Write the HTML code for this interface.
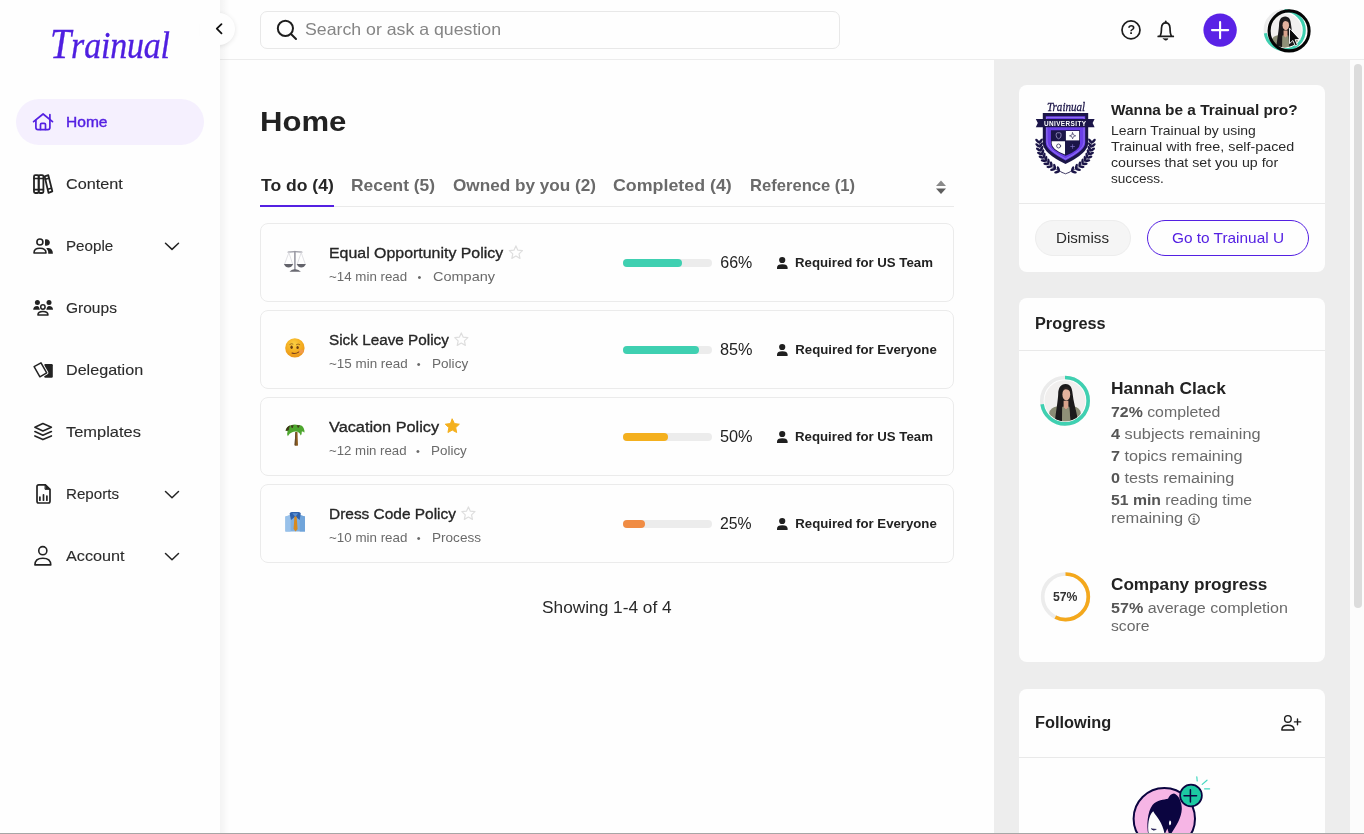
<!DOCTYPE html>
<html lang="en">
<head>
<meta charset="utf-8">
<title>Trainual - Home</title>
<style>
*{box-sizing:border-box;margin:0;padding:0}
html,body{width:1364px;height:834px;overflow:hidden;background:#fefefe}
body{font-family:"Liberation Sans",sans-serif;color:#222;position:relative}
.abs{position:absolute}
.t{position:absolute;white-space:nowrap;line-height:1}
svg{display:block;overflow:visible}

/* ---------- right panel ---------- */
#right{left:994px;top:60px;width:356px;height:774px;background:#ededed}
#scroll{left:1350px;top:60px;width:14px;height:774px;background:#fcfcfc}
#thumb{left:1354px;top:64px;width:8px;height:544px;border-radius:4px;background:#dcdcdc}
.card{position:absolute;left:1019px;width:306px;background:#fefefe;border-radius:8px}
.hr{position:absolute;left:1019px;width:306px;height:1px;background:#e9e9e9}

/* ---------- sidebar ---------- */
#side{left:0;top:0;width:220px;height:834px;background:#fefefe}
#sideshadow{left:220px;top:0;width:10px;height:834px;background:linear-gradient(90deg,rgba(0,0,0,.045),rgba(0,0,0,.02) 50%,rgba(0,0,0,0))}
#pill{left:16px;top:99px;width:188px;height:46px;border-radius:23px;background:#f5f0fe}
.nav{font-size:14.5px;color:#2a2a2a;left:66px}
.ico{position:absolute}

/* ---------- header ---------- */
#head{left:220px;top:0;width:1144px;height:60px;background:#fefefe;border-bottom:1px solid #ececec}
#search{left:260px;top:11px;width:580px;height:38px;border:1px solid #e8e8e8;border-radius:7px;background:#fefefe}

/* ---------- main ---------- */
.row{position:absolute;left:260px;width:694px;height:79px;border:1px solid #ebebeb;border-radius:8px;background:#fefefe}
.ttl{font-size:15px;color:#262626}
.sub{font-size:13px;color:#666}
.bar{position:absolute;left:623px;width:89px;height:8px;border-radius:4px;background:#ececec}
.fill{position:absolute;left:0;top:0;height:8px;border-radius:4px}
.pct{font-size:16px;color:#222}
.req{font-size:13px;font-weight:bold;color:#222}
.tab{font-size:16px;font-weight:bold;color:#666}
.g{color:#6b6b6b}
b{font-weight:bold}
</style>
</head>
<body>
<div id="layer" style="position:absolute;left:0;top:0;width:1364px;height:834px;will-change:transform">

<!-- ================= MAIN BACKGROUNDS ================= -->
<div class="abs" id="right"></div>
<div class="abs" id="scroll"></div>
<div class="abs" id="thumb"></div>
<div class="abs" id="head"></div>
<div class="abs" id="sideshadow"></div>
<div class="abs" id="side"></div>

<!-- ================= SIDEBAR ================= -->
<div id="sidebar">
<div class="t" id="logo" style="left:49.9px;top:22.8px;font-family:'Liberation Serif',serif;font-style:italic;font-size:42.5px;color:#4f1fe0;transform-origin:0 0;transform:scaleX(0.893);-webkit-text-stroke:0.35px #4f1fe0">T<span style="font-size:38px;letter-spacing:-0.2px">rainual</span></div>
<div class="abs" id="pill"></div>
<svg class="abs" style="left:0;top:0" width="240" height="834" viewBox="0 0 240 834" fill="none" stroke="#232323" stroke-width="1.6" stroke-linecap="round" stroke-linejoin="round">
<!-- home -->
<g stroke="#5420e2" stroke-width="1.7">
<path d="M33.6 121.7 L43.1 114 L52.5 121.7"/>
<path d="M35.9 120.2 V127.6 Q35.9 129.7 38 129.7 H47.8 Q49.9 129.7 49.9 127.6 V114.6"/>
<path d="M40.5 129.5 V124.6 Q40.5 123.3 41.8 123.3 H44.2 Q45.5 123.3 45.5 124.6 V129.5"/>
</g>
<!-- content / books -->
<rect x="34" y="175.2" width="4.7" height="17.8" rx="1.2" stroke-width="1.8"/>
<rect x="38.7" y="175.2" width="4.7" height="17.8" rx="1.2" stroke-width="1.8"/>
<path d="M34 178.5 H43.4 M34 189.6 H43.4"/>
<path d="M44.6 176.3 L48.3 175.2 L52.3 191.3 L48.5 192.9 Z" stroke-width="1.8"/>
<path d="M45.3 179.3 L48.8 178.3 M47.8 189.3 L51.3 188.2"/>
<!-- people -->
<circle cx="39.9" cy="242" r="3"/>
<path d="M34 253 Q33.9 248.3 39.9 248.3 Q46 248.3 46 253 Z"/>
<path d="M45 239.6 A3.3 3.3 0 1 1 45 245.4 Z" fill="#232323" stroke="none"/>
<path d="M46.2 247.9 H48.6 Q52.9 248.3 52.9 253.8 H48.3 Q48.6 250.4 46.2 247.9 Z" fill="#232323" stroke="none"/>
<!-- groups -->
<g fill="#232323" stroke="none">
<circle cx="37.4" cy="302.4" r="2.5"/><circle cx="49" cy="302.4" r="2.5"/>
<path d="M33.2 309.8 Q33.2 306 37.2 306 Q39.2 306 39.9 309.8 Z"/>
<path d="M53 309.8 Q53 306 49 306 Q47 306 46.3 309.8 Z"/>
</g>
<circle cx="42.9" cy="307" r="2.2" stroke-width="1.5"/>
<path d="M37.9 315 Q38 311.6 42.9 311.6 Q47.9 311.6 48 315 Z" stroke-width="1.5"/>
<!-- delegation -->
<rect x="44.2" y="364" width="8.6" height="13.7" rx="1.2" fill="#232323" stroke="none"/>
<path d="M41 362.9 L34.1 366.7 L39.9 376.8 L46.7 372.9 Z" fill="#fefefe" stroke="#fefefe" stroke-width="3.4"/><path d="M41 362.9 L34.1 366.7 L39.9 376.8 L46.7 372.9 Z" fill="#fefefe" stroke-width="1.5"/>
<!-- templates -->
<path d="M34.9 427.3 L42.9 423.6 L51.4 427.3 L42.9 431 Z"/>
<path d="M34.9 431.6 L42.9 435.2 L51.4 431.6"/>
<path d="M34.9 435.9 L42.9 439.6 L51.4 435.9"/>
<!-- reports -->
<path d="M37 486.6 Q37 484.9 38.7 484.9 H45.4 L50 489.3 V501.3 Q50 503 48.3 503 H38.7 Q37 503 37 501.3 Z" stroke-width="1.7"/>
<path d="M45.4 484.9 L50 489.3 H45.4 Z" fill="#232323" stroke-width="1"/>
<path d="M39.9 497 V500.2 M43.5 494.8 V500.2 M46.9 496 V500.2" stroke-width="1.7"/>
<!-- account -->
<circle cx="42.8" cy="550.7" r="4.05"/>
<path d="M34.9 564.9 Q35 558.2 42.8 558.2 Q50.7 558.2 50.8 564.9 Z"/>
<!-- chevrons -->
<g stroke-width="1.5">
<path d="M165.5 243.2 L172 249.4 L178.5 243.2"/>
<path d="M165.5 491.5 L172 497.7 L178.5 491.5"/>
<path d="M165.5 553.5 L172 559.7 L178.5 553.5"/>
</g>
</svg>
<!-- collapse button -->
<div class="abs" style="left:202.7px;top:12.5px;width:32.5px;height:32.5px;border-radius:50%;background:#fefefe;box-shadow:0 1px 5px rgba(0,0,0,.10)"></div>
<div class="abs" style="left:200px;top:0;width:20px;height:60px;background:#fefefe"></div>
<svg class="abs" style="left:210px;top:20px" width="20" height="20" viewBox="210 20 20 20" fill="none" stroke="#111" stroke-width="1.8" stroke-linecap="round" stroke-linejoin="round"><path d="M221.5 24.1 L216.8 28.7 L221.5 33.3"/></svg>

<div class="t" style="left:66.4px;top:114.00px;font-size:15px;color:#5420e2;transform:scaleX(1.0371);transform-origin:0 0;-webkit-text-stroke:0.4px currentColor;">Home</div>
<div class="t" style="left:66.4px;top:176.00px;font-size:15px;color:#2b2b2b;transform:scaleX(1.0809);transform-origin:0 0;-webkit-text-stroke:0.12px currentColor;">Content</div>
<div class="t" style="left:66.4px;top:238.00px;font-size:15px;color:#2b2b2b;transform:scaleX(1.0103);transform-origin:0 0;-webkit-text-stroke:0.12px currentColor;">People</div>
<div class="t" style="left:66.4px;top:300.00px;font-size:15px;color:#2b2b2b;transform:scaleX(1.0345);transform-origin:0 0;-webkit-text-stroke:0.12px currentColor;">Groups</div>
<div class="t" style="left:66.4px;top:362.00px;font-size:15px;color:#2b2b2b;transform:scaleX(1.0750);transform-origin:0 0;-webkit-text-stroke:0.12px currentColor;">Delegation</div>
<div class="t" style="left:66.4px;top:424.00px;font-size:15px;color:#2b2b2b;transform:scaleX(1.0954);transform-origin:0 0;-webkit-text-stroke:0.12px currentColor;">Templates</div>
<div class="t" style="left:66.4px;top:486.00px;font-size:15px;color:#2b2b2b;transform:scaleX(1.0089);transform-origin:0 0;-webkit-text-stroke:0.12px currentColor;">Reports</div>
<div class="t" style="left:66.4px;top:548.00px;font-size:15px;color:#2b2b2b;transform:scaleX(1.0811);transform-origin:0 0;-webkit-text-stroke:0.12px currentColor;">Account</div>
</div>

<!-- ================= HEADER ================= -->
<div id="header">
<div class="abs" id="search"></div>
<svg class="abs" style="left:0;top:0;width:0;height:0" width="0" height="0">
<defs>
<clipPath id="pc"><circle cx="0" cy="0" r="20.5"/></clipPath>
<g id="portrait">
<circle cx="0" cy="0" r="20.5" fill="#f1efee"/>
<g clip-path="url(#pc)">
<path d="M-15.8 22 V12.5 Q-15 6.6 -7 5.6 H8 Q15 6.6 15.8 12.5 V22 Z" fill="#8a8c74"/>
<path d="M0.6 -16.8 C-4.6 -16.8 -6.6 -12.5 -6.8 -7 C-7 -1 -8.6 8 -10 19.5 L-3 20.5 L-2.6 6 L4.2 6 L5.5 20 L12.6 17.5 C11 9 8.2 0 7.6 -7 C7.2 -12.5 5.6 -16.8 0.6 -16.8 Z" fill="#1c1a1b"/>
<path d="M-1.4 0 H3.4 V6.5 L1 8.8 L-1.4 6.5 Z" fill="#d8a38c"/>
<path d="M-2.6 6.2 L1 9 L4.2 6.2 L5.2 21 H-3 Z" fill="#8f9078"/>
<ellipse cx="1.3" cy="-6.3" rx="3.9" ry="6.1" fill="#e4b29d"/>
<path d="M-2.6 -9 Q0 -13.5 5.2 -9.5 Q4.5 -13.6 1.2 -13.6 Q-2 -13.6 -2.6 -9 Z" fill="#2a2322"/>
</g>
</g>
</defs>
</svg>
<svg class="abs" style="left:220px;top:0" width="1144" height="60" viewBox="220 0 1144 60" fill="none" stroke="#1d1d1d" stroke-width="1.8" stroke-linecap="round" stroke-linejoin="round">
<!-- search -->
<circle cx="285.4" cy="28.3" r="7.6" stroke-width="2"/><path d="M291 34 L296 39" stroke-width="2"/>
<!-- help -->
<circle cx="1131" cy="29.9" r="9" stroke-width="1.7"/>
<!-- bell -->
<path d="M1158.2 36.4 H1173.3" stroke-width="1.7"/>
<path d="M1160.2 36.2 C1161.8 32.8 1161.3 30.4 1161.5 28 C1161.7 24.6 1163.4 22.9 1165.75 22.9 C1168.1 22.9 1169.8 24.6 1170 28 C1170.2 30.4 1169.7 32.8 1171.3 36.2" stroke-width="1.7"/>
<path d="M1165.75 21.3 V22.6" stroke-width="1.7"/>
<path d="M1163.4 38.7 H1168.1 Q1165.75 41.8 1163.4 38.7 Z" fill="#1d1d1d" stroke-width="0.6"/>
<!-- plus -->
<circle cx="1220.1" cy="30.1" r="16.7" fill="#5a22e6" stroke="none"/>
<path d="M1212 30.1 H1228.2 M1220.1 22 V38.2" stroke="#fff" stroke-width="2.1"/>
<!-- avatar -->
<circle cx="1284.7" cy="30.2" r="19.6" stroke="#ececec" stroke-width="3"/>
<circle cx="1284.7" cy="30.2" r="19.6" stroke="#3fd0b1" stroke-width="3" stroke-dasharray="88.7 200" transform="rotate(-90 1284.7 30.2)" stroke-linecap="butt"/>
<g transform="translate(1284.7 30.4) scale(0.83)" stroke="none"><use href="#portrait"/></g>
<circle cx="1289.1" cy="30.9" r="20" stroke="#050505" stroke-width="3.1"/>
<!-- cursor -->
<path d="M1289.5 28.6 L1289.5 43.6 L1292.9 40.5 L1295.3 45.8 L1297.4 44.9 L1295.1 39.7 L1299.7 39.5 Z" fill="#0a0a0a" stroke="#fff" stroke-width="0.9"/>
</svg>
<div class="t" style="left:1127.4px;top:23.6px;font-size:12.6px;font-weight:bold;color:#1d1d1d">?</div>

<div class="t" style="left:305.4px;top:20.75px;font-size:16.5px;color:#858585;transform:scaleX(1.0738);transform-origin:0 0;">Search or ask a question</div>
</div>

<!-- ================= MAIN ================= -->
<div id="main">
<div class="abs" style="left:260px;top:206px;width:694px;height:1px;background:#eaeaea"></div>
<div class="abs" style="left:260px;top:205px;width:74px;height:2px;background:#5420e2"></div>
<div class="row" style="top:223px"></div>
<div class="bar" style="top:259px"><div class="fill" style="width:59px;background:#3fd0b1"></div></div>
<div class="row" style="top:310px"></div>
<div class="bar" style="top:346px"><div class="fill" style="width:75.6px;background:#3fd0b1"></div></div>
<div class="row" style="top:397px"></div>
<div class="bar" style="top:433px"><div class="fill" style="width:44.5px;background:#f4b01e"></div></div>
<div class="row" style="top:484px"></div>
<div class="bar" style="top:520px"><div class="fill" style="width:22.3px;background:#f08c44"></div></div>
<svg class="abs" style="left:220px;top:60px" width="774" height="560" viewBox="220 60 774 560" fill="none" stroke-linecap="round" stroke-linejoin="round">
<path d="M936 186 L941 180.4 L946 186 Z" fill="#8a8a8a"/><path d="M936 188.4 L941 194 L946 188.4 Z" fill="#5e5e5e"/>
<path d="M515.90 245.90 L517.84 250.13 L522.46 250.67 L519.04 253.82 L519.96 258.38 L515.90 256.10 L511.84 258.38 L512.76 253.82 L509.34 250.67 L513.96 250.13 Z" stroke="#dedede" stroke-width="1.2"/>
<circle cx="782.2" cy="260" r="3.1" fill="#1f1f1f"/>
<path d="M777 268.9 V267.6 Q777 264.2 782.3 264.2 Q787.6 264.2 787.6 267.6 V268.9 Z" fill="#1f1f1f"/>
<path d="M461.30 332.90 L463.24 337.13 L467.86 337.67 L464.44 340.82 L465.36 345.38 L461.30 343.10 L457.24 345.38 L458.16 340.82 L454.74 337.67 L459.36 337.13 Z" stroke="#dedede" stroke-width="1.2"/>
<circle cx="782.2" cy="347" r="3.1" fill="#1f1f1f"/>
<path d="M777 355.9 V354.6 Q777 351.2 782.3 351.2 Q787.6 351.2 787.6 354.6 V355.9 Z" fill="#1f1f1f"/>
<path d="M452.30 419.10 L454.42 423.59 L459.34 424.21 L455.72 427.61 L456.65 432.49 L452.30 430.10 L447.95 432.49 L448.88 427.61 L445.26 424.21 L450.18 423.59 Z" fill="#f4b01e" stroke="#f4b01e" stroke-width="1" />
<circle cx="782.2" cy="434" r="3.1" fill="#1f1f1f"/>
<path d="M777 442.9 V441.6 Q777 438.2 782.3 438.2 Q787.6 438.2 787.6 441.6 V442.9 Z" fill="#1f1f1f"/>
<path d="M468.40 506.90 L470.34 511.13 L474.96 511.67 L471.54 514.82 L472.46 519.38 L468.40 517.10 L464.34 519.38 L465.26 514.82 L461.84 511.67 L466.46 511.13 Z" stroke="#dedede" stroke-width="1.2"/>
<circle cx="782.2" cy="521" r="3.1" fill="#1f1f1f"/>
<path d="M777 529.9 V528.6 Q777 525.2 782.3 525.2 Q787.6 525.2 787.6 528.6 V529.9 Z" fill="#1f1f1f"/>
<g stroke="#9a9aa4" stroke-width="1.1">
<path d="M288.2 252.1 Q295 251 301.8 252.1" stroke-width="1.3"/>
<path d="M294.9 251.6 V269" stroke-width="1.6"/>
<path d="M288.9 252.6 L284.6 264 M288.9 252.6 L292.6 264 M301.2 252.6 L297.3 264 M301.2 252.6 L305.2 264" stroke="#d9d9de" stroke-width="0.8"/>
</g>
<path d="M283.9 264.1 H293.2 Q291.5 267.6 288.5 267.6 Q285.5 267.6 283.9 264.1 Z" fill="#63636b"/>
<path d="M296.7 264.1 H305.9 Q304.3 267.6 301.3 267.6 Q298.3 267.6 296.7 264.1 Z" fill="#63636b"/>
<path d="M289.5 271.8 Q291 269.4 294.9 269 Q299 269.4 300.9 271.8 Z" fill="#6a6a72"/>
<defs><radialGradient id="fg" cx="0.45" cy="0.3" r="0.75"><stop offset="0" stop-color="#fbd044"/><stop offset="0.55" stop-color="#f4ad20"/><stop offset="1" stop-color="#e8901a"/></radialGradient></defs>
<circle cx="294.9" cy="347.9" r="9.7" fill="url(#fg)"/>
<ellipse cx="291.6" cy="347.3" rx="1.2" ry="1.7" fill="#6a3d12"/><ellipse cx="297.6" cy="347.6" rx="1.2" ry="1.5" fill="#6a3d12"/>
<path d="M289.8 344.4 Q291.5 343 293 344 M296.4 344.6 Q298 343.2 299.8 344.6" stroke="#8a5a1a" stroke-width="0.8"/>
<path d="M292 353 Q295 354.6 299.5 351.6" stroke="#7a3f1c" stroke-width="1.1"/>
<path d="M299 349.5 Q303.5 349 304 351.5 Q302 354.5 299 353 Z" fill="#f29a55" opacity="0.8"/>
<path d="M295.4 432 Q295 438 294.6 445.3 Q296 446.2 298 445.4 Q297.6 438 297.5 432 Z" fill="#8a5a1e"/>
<path d="M294.6 445.3 Q295 438 295.4 432 L296.2 432 Q295.8 438 295.8 445.8 Z" fill="#5e4a30"/>
<path d="M285.6 430.6 Q286.5 426.2 291 425.2 Q294.5 424 298 425 Q302.5 424.8 303.8 428.4 Q304.8 430.6 304.3 432.8 Q303.3 431.3 301.8 431.6 Q302 434 300.8 435.4 Q300 432.8 297.6 431.8 Q294.6 431.2 292.2 432.2 Q289.2 433.4 287.8 436.2 Q286.6 433.6 287.6 431.2 Q286.5 430.5 285.6 430.6 Z" fill="#4da62e"/>
<path d="M286 430.2 Q286.8 427 289.6 425.8 Q288.4 428 288.6 429.6 Z M291.2 425.6 L292.2 428 L293.2 425.4 M297.2 425.4 L298.2 427.6 L299.4 425.6" fill="#3d2a18" stroke="#3d2a18" stroke-width="0.6"/>
<path d="M285.4 516.6 L290.6 515 H299.8 L305 516.6 V531.6 H285.4 Z" fill="#80b0e0"/>
<path d="M285.4 516.6 L290.6 515 V531.6 H285.4 Z" fill="#98c1ea"/><path d="M305 516.6 L299.8 515 V531.6 H305 Z" fill="#70a4da"/>
<path d="M289.6 513.6 Q290 511.9 291.8 511.9 H298.6 Q300.5 511.9 300.8 513.6 L299.6 520 L295.4 516.6 L291 520 Z" fill="#2f62ad"/>
<path d="M292.2 513.2 H298.2 L295.4 516.8 Z" fill="#5b8fd0"/>
<path d="M294.4 516.6 H296.6 L297.6 529 L295.6 531.6 L293.6 529 Z" fill="#d98a1e"/>
</svg>

<div class="t" style="left:260.3px;top:106.80px;font-size:28.4px;font-weight:bold;color:#222;transform:scaleX(1.0952);transform-origin:0 0;">Home</div>
<div class="t" style="left:260.6px;top:176.80px;font-size:16.4px;font-weight:bold;color:#262626;transform:scaleX(1.0708);transform-origin:0 0;">To do (4)</div>
<div class="t" style="left:350.6px;top:176.80px;font-size:16.4px;font-weight:bold;color:#6a6a6a;transform:scaleX(1.0612);transform-origin:0 0;">Recent (5)</div>
<div class="t" style="left:452.7px;top:176.80px;font-size:16.4px;font-weight:bold;color:#6a6a6a;transform:scaleX(1.0468);transform-origin:0 0;">Owned by you (2)</div>
<div class="t" style="left:613.2px;top:176.80px;font-size:16.4px;font-weight:bold;color:#6a6a6a;transform:scaleX(1.0871);transform-origin:0 0;">Completed (4)</div>
<div class="t" style="left:750.4px;top:176.80px;font-size:16.4px;font-weight:bold;color:#6a6a6a;transform:scaleX(1.0119);transform-origin:0 0;">Reference (1)</div>
<div class="t" style="left:329.1px;top:244.75px;font-size:15.5px;color:#262626;transform:scaleX(1.0263);transform-origin:0 0;-webkit-text-stroke:0.33px currentColor;">Equal Opportunity Policy</div>
<div class="t" style="left:329.1px;top:269.75px;font-size:13.5px;color:#6a6a6a;transform:scaleX(0.9875);transform-origin:0 0;">~14 min read</div>
<div class="t" style="left:417.5px;top:271.50px;font-size:11px;color:#6a6a6a;">•</div>
<div class="t" style="left:432.9px;top:269.75px;font-size:13.5px;color:#6a6a6a;transform:scaleX(1.0730);transform-origin:0 0;">Company</div>
<div class="t" style="left:720.3px;top:254.50px;font-size:16px;color:#222;">66%</div>
<div class="t" style="left:795.3px;top:255.90px;font-size:13.2px;font-weight:bold;color:#222;transform:scaleX(1.0028);transform-origin:0 0;">Required for US Team</div>
<div class="t" style="left:329.1px;top:331.75px;font-size:15.5px;color:#262626;transform:scaleX(0.9870);transform-origin:0 0;-webkit-text-stroke:0.33px currentColor;">Sick Leave Policy</div>
<div class="t" style="left:329.1px;top:356.75px;font-size:13.5px;color:#6a6a6a;transform:scaleX(0.9938);transform-origin:0 0;">~15 min read</div>
<div class="t" style="left:416.70000000000005px;top:358.50px;font-size:11px;color:#6a6a6a;">•</div>
<div class="t" style="left:432.1px;top:356.75px;font-size:13.5px;color:#6a6a6a;transform:scaleX(1.0051);transform-origin:0 0;">Policy</div>
<div class="t" style="left:720.3px;top:341.50px;font-size:16px;color:#222;transform:scaleX(1.0178);transform-origin:0 0;">85%</div>
<div class="t" style="left:795.3px;top:342.90px;font-size:13.2px;font-weight:bold;color:#222;">Required for Everyone</div>
<div class="t" style="left:329.1px;top:418.75px;font-size:15.5px;color:#262626;transform:scaleX(1.0503);transform-origin:0 0;-webkit-text-stroke:0.33px currentColor;">Vacation Policy</div>
<div class="t" style="left:329.1px;top:443.75px;font-size:13.5px;color:#6a6a6a;transform:scaleX(0.9800);transform-origin:0 0;">~12 min read</div>
<div class="t" style="left:416.0px;top:445.50px;font-size:11px;color:#6a6a6a;">•</div>
<div class="t" style="left:431.4px;top:443.75px;font-size:13.5px;color:#6a6a6a;transform:scaleX(0.9940);transform-origin:0 0;">Policy</div>
<div class="t" style="left:720.3px;top:428.50px;font-size:16px;color:#222;transform:scaleX(1.0178);transform-origin:0 0;">50%</div>
<div class="t" style="left:795.3px;top:429.90px;font-size:13.2px;font-weight:bold;color:#222;transform:scaleX(1.0028);transform-origin:0 0;">Required for US Team</div>
<div class="t" style="left:329.1px;top:505.75px;font-size:15.5px;color:#262626;transform:scaleX(0.9961);transform-origin:0 0;-webkit-text-stroke:0.33px currentColor;">Dress Code Policy</div>
<div class="t" style="left:329.1px;top:530.75px;font-size:13.5px;color:#6a6a6a;transform:scaleX(0.9901);transform-origin:0 0;">~10 min read</div>
<div class="t" style="left:416.70000000000005px;top:532.50px;font-size:11px;color:#6a6a6a;">•</div>
<div class="t" style="left:432.1px;top:530.75px;font-size:13.5px;color:#6a6a6a;transform:scaleX(1.0045);transform-origin:0 0;">Process</div>
<div class="t" style="left:720.3px;top:515.50px;font-size:16px;color:#222;transform:scaleX(0.9865);transform-origin:0 0;">25%</div>
<div class="t" style="left:795.3px;top:516.90px;font-size:13.2px;font-weight:bold;color:#222;">Required for Everyone</div>
<div class="t" style="left:542.3px;top:599.50px;font-size:16px;color:#2a2a2a;transform:scaleX(1.0801);transform-origin:0 0;">Showing 1-4 of 4</div>
</div>

<!-- ================= RIGHT ================= -->
<div id="rightpanel">
<div class="card" style="top:85px;height:187px"></div>
<div class="hr" style="top:203px"></div>
<div class="card" style="top:298px;height:364px"></div>
<div class="hr" style="top:350px"></div>
<div class="card" style="top:689px;height:160px"></div>
<div class="hr" style="top:757px"></div>
<div class="abs" style="left:1035px;top:220px;width:96px;height:36px;border-radius:18px;background:#f5f5f5;border:1px solid #ededed"></div>
<div class="abs" style="left:1147px;top:220px;width:162px;height:36px;border-radius:18px;background:#fefefe;border:1.2px solid #5420e2"></div>
<svg class="abs" style="left:994px;top:60px" width="356" height="774" viewBox="994 60 356 774" fill="none" stroke-linecap="round" stroke-linejoin="round">
<path d="M1042.8 113 H1088.2 V143 Q1088.2 153 1065.5 164 Q1042.8 153 1042.8 143 Z" fill="#1b1548"/>
<path d="M1045.8 116.2 H1085.2 V142.6 Q1085.2 150.8 1065.5 160.4 Q1045.8 150.8 1045.8 142.6 Z" fill="#6b3fe8"/>
<path d="M1047 117.4 H1084 V142.4 Q1084 149.8 1065.5 158.9 Q1047 149.8 1047 142.4 Z" fill="none" stroke="#b9a4f5" stroke-width="0.5"/>
<path d="M1035.8 118.9 H1094.6 L1092.6 123.1 L1094.6 127.3 H1035.8 L1037.8 123.1 Z" fill="#1b1548"/>
<path d="M1050.9 130.3 H1080 V143.5 Q1080 150 1065.5 155.8 Q1050.9 150 1050.9 143.5 Z" fill="#1b1548"/>
<path d="M1065.9 131 H1079.2 V140.4 H1065.9 Z" fill="#fdfdfd"/>
<path d="M1051.7 141.2 H1065 V154.6 Q1051.7 149.6 1051.7 143.6 Z" fill="#fdfdfd"/>
<circle cx="1058.6" cy="146" r="2" stroke="#1b1548" stroke-width="0.7"/>
<path d="M1072.6 132.8 L1073.5 135 L1075.7 135.8 L1073.5 136.6 L1072.6 138.8 L1071.7 136.6 L1069.5 135.8 L1071.7 135 Z" stroke="#1b1548" stroke-width="0.6"/>
<path d="M1056.2 134 Q1056.2 132.8 1057.4 132.8 H1059.8 Q1061 132.8 1061 134 V136 Q1061 138 1058.6 138.8 Q1056.2 138 1056.2 136 Z" stroke="#cfc6f5" stroke-width="0.6"/>
<path d="M1072.6 144.6 V148.4 M1070.7 146.5 H1074.5" stroke="#8d7fd8" stroke-width="0.6"/>
<path d="M1039.2 142.0 Q1040.0 163.0 1061.9 172.4" stroke="#1b1548" stroke-width="0.7"/>
<ellipse cx="1037.46" cy="141.08" rx="2.9" ry="1.3" transform="rotate(224.6 1037.46 141.08)" fill="#1b1548"/>
<ellipse cx="1040.80" cy="140.88" rx="2.9" ry="1.3" transform="rotate(308.6 1040.80 140.88)" fill="#1b1548"/>
<ellipse cx="1037.75" cy="145.41" rx="2.9" ry="1.3" transform="rotate(218.2 1037.75 145.41)" fill="#1b1548"/>
<ellipse cx="1041.04" cy="144.84" rx="2.9" ry="1.3" transform="rotate(302.2 1041.04 144.84)" fill="#1b1548"/>
<ellipse cx="1038.48" cy="149.55" rx="2.9" ry="1.3" transform="rotate(211.3 1038.48 149.55)" fill="#1b1548"/>
<ellipse cx="1041.69" cy="148.58" rx="2.9" ry="1.3" transform="rotate(295.3 1041.69 148.58)" fill="#1b1548"/>
<ellipse cx="1039.69" cy="153.47" rx="2.9" ry="1.3" transform="rotate(203.9 1039.69 153.47)" fill="#1b1548"/>
<ellipse cx="1042.74" cy="152.10" rx="2.9" ry="1.3" transform="rotate(287.9 1042.74 152.10)" fill="#1b1548"/>
<ellipse cx="1041.37" cy="157.17" rx="2.9" ry="1.3" transform="rotate(196.4 1041.37 157.17)" fill="#1b1548"/>
<ellipse cx="1044.22" cy="155.42" rx="2.9" ry="1.3" transform="rotate(280.4 1044.22 155.42)" fill="#1b1548"/>
<ellipse cx="1043.53" cy="160.64" rx="2.9" ry="1.3" transform="rotate(189.0 1043.53 160.64)" fill="#1b1548"/>
<ellipse cx="1046.13" cy="158.54" rx="2.9" ry="1.3" transform="rotate(273.0 1046.13 158.54)" fill="#1b1548"/>
<ellipse cx="1046.18" cy="163.86" rx="2.9" ry="1.3" transform="rotate(181.9 1046.18 163.86)" fill="#1b1548"/>
<ellipse cx="1048.50" cy="161.45" rx="2.9" ry="1.3" transform="rotate(265.9 1048.50 161.45)" fill="#1b1548"/>
<ellipse cx="1049.30" cy="166.82" rx="2.9" ry="1.3" transform="rotate(175.4 1049.30 166.82)" fill="#1b1548"/>
<ellipse cx="1051.33" cy="164.16" rx="2.9" ry="1.3" transform="rotate(259.4 1051.33 164.16)" fill="#1b1548"/>
<ellipse cx="1052.89" cy="169.50" rx="2.9" ry="1.3" transform="rotate(169.4 1052.89 169.50)" fill="#1b1548"/>
<ellipse cx="1054.64" cy="166.65" rx="2.9" ry="1.3" transform="rotate(253.4 1054.64 166.65)" fill="#1b1548"/>
<ellipse cx="1056.94" cy="171.92" rx="2.9" ry="1.3" transform="rotate(164.1 1056.94 171.92)" fill="#1b1548"/>
<ellipse cx="1058.41" cy="168.91" rx="2.9" ry="1.3" transform="rotate(248.1 1058.41 168.91)" fill="#1b1548"/>
<path d="M1091.8 142.0 Q1091.0 163.0 1069.1 172.4" stroke="#1b1548" stroke-width="0.7"/>
<ellipse cx="1090.20" cy="140.88" rx="2.9" ry="1.3" transform="rotate(231.4 1090.20 140.88)" fill="#1b1548"/>
<ellipse cx="1093.54" cy="141.08" rx="2.9" ry="1.3" transform="rotate(315.4 1093.54 141.08)" fill="#1b1548"/>
<ellipse cx="1089.96" cy="144.84" rx="2.9" ry="1.3" transform="rotate(237.8 1089.96 144.84)" fill="#1b1548"/>
<ellipse cx="1093.25" cy="145.41" rx="2.9" ry="1.3" transform="rotate(321.8 1093.25 145.41)" fill="#1b1548"/>
<ellipse cx="1089.31" cy="148.58" rx="2.9" ry="1.3" transform="rotate(244.7 1089.31 148.58)" fill="#1b1548"/>
<ellipse cx="1092.52" cy="149.55" rx="2.9" ry="1.3" transform="rotate(328.7 1092.52 149.55)" fill="#1b1548"/>
<ellipse cx="1088.26" cy="152.10" rx="2.9" ry="1.3" transform="rotate(252.1 1088.26 152.10)" fill="#1b1548"/>
<ellipse cx="1091.31" cy="153.47" rx="2.9" ry="1.3" transform="rotate(336.1 1091.31 153.47)" fill="#1b1548"/>
<ellipse cx="1086.78" cy="155.42" rx="2.9" ry="1.3" transform="rotate(259.6 1086.78 155.42)" fill="#1b1548"/>
<ellipse cx="1089.63" cy="157.17" rx="2.9" ry="1.3" transform="rotate(343.6 1089.63 157.17)" fill="#1b1548"/>
<ellipse cx="1084.87" cy="158.54" rx="2.9" ry="1.3" transform="rotate(267.0 1084.87 158.54)" fill="#1b1548"/>
<ellipse cx="1087.47" cy="160.64" rx="2.9" ry="1.3" transform="rotate(351.0 1087.47 160.64)" fill="#1b1548"/>
<ellipse cx="1082.50" cy="161.45" rx="2.9" ry="1.3" transform="rotate(274.1 1082.50 161.45)" fill="#1b1548"/>
<ellipse cx="1084.82" cy="163.86" rx="2.9" ry="1.3" transform="rotate(358.1 1084.82 163.86)" fill="#1b1548"/>
<ellipse cx="1079.67" cy="164.16" rx="2.9" ry="1.3" transform="rotate(280.6 1079.67 164.16)" fill="#1b1548"/>
<ellipse cx="1081.70" cy="166.82" rx="2.9" ry="1.3" transform="rotate(364.6 1081.70 166.82)" fill="#1b1548"/>
<ellipse cx="1076.36" cy="166.65" rx="2.9" ry="1.3" transform="rotate(286.6 1076.36 166.65)" fill="#1b1548"/>
<ellipse cx="1078.11" cy="169.50" rx="2.9" ry="1.3" transform="rotate(370.6 1078.11 169.50)" fill="#1b1548"/>
<ellipse cx="1072.59" cy="168.91" rx="2.9" ry="1.3" transform="rotate(291.9 1072.59 168.91)" fill="#1b1548"/>
<ellipse cx="1074.06" cy="171.92" rx="2.9" ry="1.3" transform="rotate(375.9 1074.06 171.92)" fill="#1b1548"/>
<path d="M1062 172.4 L1065.5 173.8 L1069 172.4" stroke="#1b1548" stroke-width="0.8"/>
<circle cx="1065" cy="400.7" r="23.2" stroke="#ebebeb" stroke-width="3.6"/>
<circle cx="1065" cy="400.7" r="23.2" stroke="#3fd0b1" stroke-width="3.6" stroke-linecap="butt" stroke-dasharray="105.0 300" transform="rotate(-90 1065 400.7)"/>
<g transform="translate(1065 400.7)"><use href="#portrait"/></g>
<circle cx="1065.5" cy="596.8" r="22.8" stroke="#ececec" stroke-width="3.7"/>
<circle cx="1065.5" cy="596.8" r="22.8" stroke="#f4a81c" stroke-width="3.7" stroke-linecap="butt" stroke-dasharray="81.7 300" transform="rotate(-90 1065.5 596.8)"/>
<circle cx="1194" cy="519.2" r="5.2" stroke="#555" stroke-width="1.1"/><path d="M1194 518.6 V521.9 M1193 518.6 H1194 M1192.9 521.9 H1195.1" stroke="#555" stroke-width="1"/><circle cx="1194" cy="516.5" r="0.7" fill="#555"/>
<g stroke="#1d1d1d" stroke-width="1.4"><circle cx="1287.9" cy="718.9" r="3.3"/><path d="M1281.8 730 Q1281.9 725.3 1287.9 725.3 Q1294 725.3 1294.1 730 Z"/><path d="M1294.4 721.9 H1300.7 M1297.5 719 V724.8"/></g>
<circle cx="1164.3" cy="818.7" r="30.7" fill="#f6b5e5" stroke="#0b0540" stroke-width="2"/>
<path d="M1148.2 834 C1146.6 826 1147.2 812 1152.5 805 C1157 800.2 1164 799.6 1168 798.8 C1169.2 795.6 1171.4 793.6 1174 793.4 C1178.5 794.5 1182 802 1181.8 809 C1181.5 818 1176 826 1171 834 Z" fill="#0b0540"/>
<path d="M1148.8 834 C1147.2 826 1148.6 815 1153.2 811.2 C1156.5 817 1162.5 822 1164.6 834 Z" fill="#fdfdfd"/>
<path d="M1151.4 828.9 Q1153.4 831.4 1156 829.6 Z" fill="#0b0540" stroke="#0b0540" stroke-width="0.5"/>
<path d="M1169.6 820.6 Q1171.6 821 1171 824 Q1170 825.8 1169.4 825.2 Q1168.6 822.6 1169.6 820.6 Z" fill="#fdfdfd"/>
<path d="M1164.8 834 L1167.4 828.5 L1169 834 Z" fill="#f6b5e5"/>
<circle cx="1191" cy="795.5" r="10.9" fill="#1cc9a2" stroke="#0b0540" stroke-width="1.7"/>
<path d="M1184 795.7 H1196.6 M1190.4 789.8 V802" stroke="#0b0540" stroke-width="1.5"/>
<path d="M1196.8 776.8 L1197.2 781 M1207 780.2 L1202.2 784.4 M1204.6 788.8 H1209.6" stroke="#43d8c0" stroke-width="1.2"/>
</svg>
<div class="t" style="left:1046.6px;top:99.6px;font-family:'Liberation Serif',serif;font-style:italic;font-size:13.5px;color:#1b1548;transform-origin:0 0;transform:scaleX(0.82);-webkit-text-stroke:0.3px #1b1548">Trainual</div>
<div class="t" style="left:1043.9px;top:121px;font-size:6.4px;font-weight:bold;color:#fff;letter-spacing:0.42px">UNIVERSITY</div>

<div class="t" style="left:1111.4px;top:103.00px;font-size:14px;font-weight:bold;color:#222;transform:scaleX(1.0987);transform-origin:0 0;">Wanna be a Trainual pro?</div>
<div class="t" style="left:1111.4px;top:123.75px;font-size:13.5px;color:#2a2a2a;transform:scaleX(1.0318);transform-origin:0 0;">Learn Trainual by using</div>
<div class="t" style="left:1111.4px;top:139.75px;font-size:13.5px;color:#2a2a2a;transform:scaleX(1.0605);transform-origin:0 0;">Trainual with free, self-paced</div>
<div class="t" style="left:1111.4px;top:155.75px;font-size:13.5px;color:#2a2a2a;transform:scaleX(1.0510);transform-origin:0 0;">courses that set you up for</div>
<div class="t" style="left:1111.4px;top:171.75px;font-size:13.5px;color:#2a2a2a;transform:scaleX(1.0070);transform-origin:0 0;">success.</div>
<div class="t" style="left:1056.4px;top:230.00px;font-size:15px;color:#2a2a2a;transform:scaleX(1.0095);transform-origin:0 0;">Dismiss</div>
<div class="t" style="left:1171.8px;top:230.00px;font-size:15px;color:#5420e2;transform:scaleX(1.0255);transform-origin:0 0;">Go to Trainual U</div>
<div class="t" style="left:1035.1px;top:315.50px;font-size:16px;font-weight:bold;color:#222;transform:scaleX(1.0177);transform-origin:0 0;">Progress</div>
<div class="t" style="left:1111.2px;top:379.75px;font-size:16.5px;font-weight:bold;color:#222;transform:scaleX(1.0520);transform-origin:0 0;">Hannah Clack</div>
<div class="t" style="left:1111.2px;top:403.75px;font-size:15.5px;color:#6a6a6a;transform:scaleX(1.0238);transform-origin:0 0;"><b style="color:#555">72%</b> completed</div>
<div class="t" style="left:1111.2px;top:425.75px;font-size:15.5px;color:#6a6a6a;transform:scaleX(1.0522);transform-origin:0 0;"><b style="color:#555">4</b> subjects remaining</div>
<div class="t" style="left:1111.2px;top:447.75px;font-size:15.5px;color:#6a6a6a;transform:scaleX(1.0445);transform-origin:0 0;"><b style="color:#555">7</b> topics remaining</div>
<div class="t" style="left:1111.2px;top:469.75px;font-size:15.5px;color:#6a6a6a;transform:scaleX(1.0445);transform-origin:0 0;"><b style="color:#555">0</b> tests remaining</div>
<div class="t" style="left:1111.2px;top:491.75px;font-size:15.5px;color:#6a6a6a;transform:scaleX(1.0172);transform-origin:0 0;"><b style="color:#555">51 min</b> reading time</div>
<div class="t" style="left:1111.2px;top:509.75px;font-size:15.5px;color:#6a6a6a;transform:scaleX(1.0608);transform-origin:0 0;">remaining</div>
<div class="t" style="left:1052.5px;top:590.75px;font-size:12.5px;font-weight:bold;color:#333;transform:scaleX(0.9788);transform-origin:0 0;">57%</div>
<div class="t" style="left:1111.4px;top:576.50px;font-size:16px;font-weight:bold;color:#222;transform:scaleX(1.0719);transform-origin:0 0;">Company progress</div>
<div class="t" style="left:1111.4px;top:599.75px;font-size:15.5px;color:#6a6a6a;transform:scaleX(1.0374);transform-origin:0 0;"><b style="color:#555">57%</b> average completion</div>
<div class="t" style="left:1111.4px;top:617.75px;font-size:15.5px;color:#6a6a6a;transform:scaleX(1.0157);transform-origin:0 0;">score</div>
<div class="t" style="left:1035.2px;top:714.50px;font-size:16px;font-weight:bold;color:#222;transform:scaleX(1.0207);transform-origin:0 0;">Following</div>
</div>

<div class="abs" style="left:0;top:833px;width:1364px;height:1px;background:#a6a6a6"></div>
</div>
</body>
</html>
